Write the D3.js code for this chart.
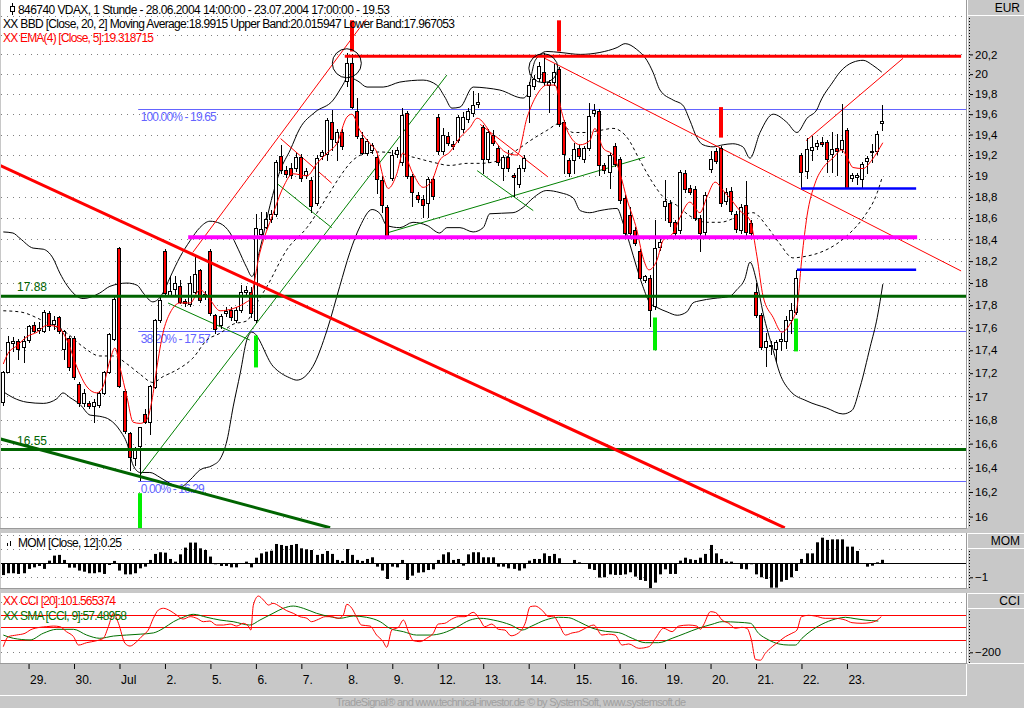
<!DOCTYPE html>
<html>
<head>
<meta charset="utf-8">
<script src="https://cdn.jsdelivr.net/npm/d3@7"></script>
<style>
body { margin: 0; background: #c8c8c8; }
svg text { font-family: "Liberation Sans", Arial, sans-serif; }
</style>
</head>
<body>
<div id="chart"></div>
<script>
// ---- data (hourly bars, 28.06.2004 14:00 - 23.07.2004 17:00) ----
var opens = [16.95,17.21,17.46,17.48,17.43,17.49,17.62,17.58,17.57,17.73,
 17.63,17.69,17.41,17.51,17.51,17.11,16.94,16.94,16.92,16.93,
 17.03,17.21,17.50,18.32,17.05,16.69,16.48,16.58,16.85,16.78,
 17.08,17.67,18.29,17.89,17.95,17.97,17.84,17.81,17.92,18.12,
 17.90,18.29,17.71,17.62,17.73,17.76,17.67,17.76,17.92,17.92,
 17.67,18.45,18.52,18.59,18.64,19.19,19.06,19.08,19.08,19.18,
 19.01,18.96,18.74,19.19,19.21,19.52,19.33,19.42,19.93,20.11,
 19.63,19.37,19.22,19.25,19.18,18.96,18.70,18.98,19.21,19.13,
 19.61,19.00,18.82,18.78,18.74,18.97,19.57,19.24,19.39,19.31,
 19.35,19.45,19.55,19.61,19.70,19.47,19.16,19.40,19.27,19.08,
 19.18,19.01,18.92,19.08,19.78,19.88,19.96,20.02,19.89,19.92,
 20.05,19.52,19.15,19.15,19.27,19.16,19.27,19.61,19.63,19.10,
 19.04,19.29,19.16,18.79,18.63,18.49,18.29,18.03,18.05,17.79,
 18.33,18.71,18.74,18.56,18.49,19.03,18.88,18.87,18.60,18.47,
 19.07,19.24,19.27,18.76,18.86,18.64,18.49,18.72,18.55,17.92,
 17.71,17.43,17.45,17.41,17.48,17.48,17.67,17.74,19.20,19.05,
 19.25,19.29,19.33,19.33,19.21,19.27,19.26,19.44,18.98,18.99,
 18.97,19.14,19.23,19.24,19.51];
var highs = [17.22,17.53,17.52,17.50,17.53,17.62,17.65,17.65,17.76,17.75,
 17.70,17.70,17.58,17.53,17.53,17.12,17.06,16.96,16.98,17.05,
 17.22,17.55,17.87,18.33,17.06,16.70,16.57,16.74,16.89,17.10,
 17.68,17.89,18.31,18.06,18.06,18.03,17.86,18.06,18.26,18.13,
 17.93,18.31,17.72,17.72,17.78,17.78,17.78,17.98,17.97,17.96,
 18.64,18.66,18.66,18.68,19.15,19.30,19.09,19.12,19.22,19.21,
 19.08,18.99,19.20,19.25,19.56,19.64,19.45,19.45,20.21,20.20,
 19.76,19.42,19.36,19.32,19.20,19.00,18.72,19.25,19.28,19.66,
 19.63,19.02,18.85,18.82,18.99,19.00,19.60,19.46,19.42,19.34,
 19.59,19.62,19.66,19.83,19.81,19.49,19.45,19.44,19.30,19.20,
 19.25,19.03,19.10,19.20,19.92,19.99,20.12,20.21,19.94,20.10,
 20.07,19.54,19.17,19.32,19.30,19.29,19.71,19.70,19.65,19.12,
 19.22,19.32,19.18,18.82,18.70,18.52,18.31,18.07,18.07,18.58,
 18.41,18.96,18.77,18.58,19.06,19.06,18.91,18.90,18.63,18.85,
 19.24,19.27,19.29,18.88,18.89,18.67,18.73,18.95,18.58,18.00,
 17.73,17.55,17.48,17.49,17.55,17.70,17.82,18.12,19.22,19.37,
 19.39,19.35,19.38,19.35,19.42,19.41,19.70,19.46,19.03,19.03,
 19.13,19.19,19.31,19.43,19.69];
var lows = [16.93,17.21,17.39,17.32,17.30,17.47,17.56,17.55,17.56,17.58,
 17.59,17.55,17.32,17.23,17.15,16.92,16.92,16.90,16.78,16.91,
 17.02,17.20,17.49,17.08,16.69,16.38,16.42,16.30,16.77,16.68,
 17.07,17.65,17.89,17.88,17.90,17.82,17.79,17.79,17.91,17.83,
 17.86,17.71,17.55,17.60,17.70,17.67,17.65,17.74,17.89,17.69,
 17.65,18.44,18.51,18.56,18.62,19.03,18.99,18.98,19.05,18.95,
 18.98,18.66,18.72,19.16,19.15,19.25,19.15,19.26,19.88,19.66,
 19.37,19.21,19.20,19.22,18.84,18.66,18.43,18.96,19.18,19.10,
 18.98,18.71,18.75,18.61,18.61,18.78,19.21,19.21,19.30,19.26,
 19.33,19.42,19.52,19.58,19.67,19.03,19.13,19.30,19.10,18.96,
 19.05,18.81,18.89,19.05,19.52,19.85,19.93,19.89,19.62,19.89,
 19.48,19.03,19.00,19.03,19.17,19.13,19.25,19.58,19.01,19.03,
 18.88,19.09,18.74,18.43,18.43,18.35,18.04,18.01,17.61,17.77,
 18.30,18.58,18.53,18.44,18.46,18.85,18.83,18.58,18.29,18.44,
 19.04,19.12,18.71,18.73,18.64,18.47,18.46,18.44,18.43,17.69,
 17.41,17.26,17.37,17.30,17.40,17.42,17.55,17.72,18.88,18.98,
 19.15,19.26,19.29,19.04,19.04,19.01,19.23,18.88,18.95,18.92,
 18.89,19.03,19.13,19.21,19.44];
var closes = [17.21,17.47,17.48,17.41,17.48,17.61,17.57,17.60,17.74,17.61,
 17.67,17.57,17.57,17.25,17.17,16.94,17.03,16.92,16.95,17.03,
 17.21,17.54,17.86,17.09,16.71,16.49,16.55,16.74,16.78,17.09,
 17.67,17.85,17.91,17.93,18.00,17.83,17.82,18.00,18.08,17.85,
 17.89,17.73,17.59,17.70,17.75,17.69,17.76,17.92,17.94,17.73,
 18.51,18.50,18.59,18.64,19.13,19.06,19.02,19.01,19.18,18.98,
 19.05,18.71,19.17,19.23,19.54,19.36,19.42,19.29,20.11,19.67,
 19.39,19.22,19.34,19.30,18.97,18.72,18.43,19.20,19.25,19.59,
 19.00,18.85,18.78,18.72,18.97,18.81,19.24,19.40,19.32,19.29,
 19.57,19.57,19.63,19.69,19.72,19.16,19.42,19.32,19.13,19.18,
 19.08,18.99,19.08,19.17,19.89,19.95,20.08,19.92,19.92,20.02,
 19.50,19.21,19.03,19.26,19.19,19.27,19.58,19.64,19.10,19.06,
 19.20,19.11,18.77,18.46,18.46,18.37,18.05,18.06,17.76,18.32,
 18.38,18.76,18.56,18.46,19.04,18.87,18.85,18.60,18.46,18.82,
 19.16,19.14,18.74,18.85,18.67,18.50,18.70,18.47,18.46,17.71,
 17.43,17.48,17.44,17.47,17.50,17.67,17.76,18.05,19.04,19.26,
 19.28,19.32,19.31,19.16,19.26,19.24,19.35,18.88,19.01,19.01,
 19.11,19.17,19.24,19.41,19.53];

// MOM [Close, 12], one value per bar
var momValues = [-0.84,-0.71,-0.71,-0.76,-0.71,-0.40,-0.29,-0.19,-0.40,0.19,
 0.55,0.60,0.24,-0.31,-0.31,-0.52,-0.60,-0.71,-0.71,-0.64,
 -0.76,-0.12,0.17,-0.52,-0.79,-0.79,-0.71,-0.36,-0.24,0.24,
 0.67,0.79,0.76,0.31,0.12,0.64,1.12,1.48,1.48,1.07,
 0.95,0.48,-0.07,-0.19,-0.19,-0.29,-0.29,0.02,0.12,-0.29,
 0.40,0.71,0.83,0.90,1.38,1.31,1.24,1.31,1.38,1.07,
 1.00,0.95,0.60,0.67,0.88,0.67,0.24,0.17,1.02,0.60,
 0.24,0.17,0.31,0.43,-0.24,-0.52,-1.12,-0.24,-0.29,0.24,
 -1.19,-0.88,-0.67,-0.64,-0.48,-0.43,0.24,0.64,0.79,0.24,
 0.31,-0.17,0.64,0.79,0.79,0.43,0.43,0.43,-0.24,-0.24,
 -0.36,-0.40,-0.52,-0.36,0.19,0.31,0.31,0.71,0.52,0.67,
 0.36,0.02,0.02,0.24,0.07,0.02,-0.40,-0.48,-1.02,-1.00,
 -0.79,-0.83,-0.83,-0.79,-0.64,-0.95,-1.19,-1.26,-1.83,-1.38,
 -0.79,-0.43,-0.76,-0.76,0.19,0.40,0.29,0.24,0.40,0.67,
 1.31,0.71,0.31,0.12,0.12,0.02,-0.40,-0.43,-0.07,-0.79,
 -1.00,-1.12,-1.74,-1.74,-1.31,-1.19,-1.00,-0.55,0.31,0.71,
 0.71,1.50,1.83,1.67,1.71,1.71,1.71,1.19,1.19,0.88,
 0.00,-0.24,-0.17,0.07,0.25];

// Bollinger bands [Close, 20, 2] as [bar, price]
var bbUpper = [[0,18.47],[1.9,18.46],[3.3,18.41],[5.9,18.32],[7.9,18.31],[9.8,18.23],[11.2,18.09],[12.6,17.98],
 [15.8,17.86],[19.1,17.91],[21.1,17.97],[24.5,18.00],[26.5,17.98],[27.7,17.91],[29.6,17.83],[31.6,17.91],
 [33,18.05],[35,18.24],[37,18.39],[38.9,18.51],[40.9,18.57],[42.9,18.55],[44.9,18.46],[46.5,18.31],
 [48.2,18.14],[49.2,18.06],[50.8,18.31],[52.8,18.72],[54.8,19.05],[56.8,19.25],[58.7,19.46],[61.7,19.62],
 [65.3,19.74],[67.2,19.89],[68.2,19.97],[70.2,19.93],[72,19.87],[75.2,19.87],[78.5,19.92],[83.1,19.94],
 [85.8,19.89],[87.4,19.77],[88.8,19.66],[90.4,19.67],[93,19.87],[95.7,19.86],[98.3,19.84],[102.9,19.76],
 [103.8,19.80],[104.5,19.98],[105.3,20.14],[107.6,20.23],[110.2,20.22],[114.2,20.20],[118.1,20.22],
 [121.5,20.27],[123.1,20.31],[125.4,20.25],[127.4,20.14],[128.6,20.02],[130,19.84],[132.6,19.74],
 [134.5,19.69],[135.9,19.54],[137.3,19.37],[138.5,19.30],[140.5,19.28],[142.5,19.30],[144.4,19.31],
 [146.4,19.28],[147.8,19.17],[149.8,19.42],[152.4,19.60],[155.1,19.52],[157.1,19.42],[159.1,19.56],
 [161.1,19.65],[161.7,19.72],[164.2,19.92],[165.6,20.02],[168.2,20.12],[170.2,20.14],[172.1,20.09],[173.9,20.02]];
var bbMiddle = [[0,17.75],[3.3,17.74],[7.9,17.66],[12.6,17.55],[15.8,17.43],[19.1,17.35],[21.7,17.35],[24.5,17.28],
 [27.1,17.19],[29.6,17.12],[31.6,17.17],[34.4,17.23],[37.5,17.33],[40.3,17.49],[42.9,17.55],[45.5,17.63],
 [48.2,17.66],[50.2,17.82],[52.2,17.97],[56.2,18.31],[60.1,18.51],[64.1,18.80],[66.6,18.99],[69.2,19.15],
 [72,19.22],[74.6,19.23],[77.1,19.22],[81.1,19.18],[85.1,19.13],[88.4,19.10],[91.8,19.12],[94.4,19.12],
 [98.3,19.15],[101.7,19.25],[104.3,19.34],[107.6,19.44],[110.2,19.51],[112.8,19.42],[115.5,19.42],
 [118.1,19.44],[120.7,19.46],[123.5,19.37],[126,19.15],[128.6,18.93],[130.6,18.80],[133.3,18.72],
 [135.9,18.62],[139.3,18.56],[141.9,18.56],[145.8,18.62],[148.4,18.65],[151.2,18.52],[153.7,18.36],
 [156.3,18.23],[158.3,18.24],[161.7,18.28],[165,18.36],[167.6,18.46],[170.2,18.60],[173,18.84],[174,18.99]];
var bbLower = [[0,17.04],[1.9,16.99],[4.7,16.95],[7.9,16.94],[10.6,16.98],[11.8,17.03],[13.2,16.99],[15.2,16.93],
 [17.2,16.84],[19.1,16.83],[21.1,16.80],[23.1,16.71],[24.5,16.60],[25.7,16.42],[27.1,16.36],[29,16.36],
 [31,16.32],[33,16.27],[35,16.24],[37,16.30],[38.9,16.38],[41.5,16.42],[42.9,16.47],[44.3,16.63],
 [45.5,16.91],[46.9,17.20],[48.2,17.49],[49.2,17.56],[53.4,17.26],[56.7,17.16],[58.1,17.14],[61.3,17.26],
 [64.1,17.58],[66.6,17.97],[68.6,18.28],[70.6,18.52],[73,18.68],[74.6,18.64],[75.9,18.53],[78.5,18.51],
 [81.1,18.56],[83.9,18.53],[86.4,18.46],[87.8,18.51],[90.4,18.51],[93,18.47],[95,18.51],[96.3,18.64],
 [100.9,18.65],[102.9,18.70],[104.9,18.79],[107.6,18.86],[110.2,18.84],[112.8,18.79],[114.2,18.67],
 [116.1,18.65],[118.1,18.67],[121.5,18.69],[122.7,18.55],[124,18.36],[125.4,18.14],[126.6,17.97],
 [128,17.82],[129.4,17.78],[131.4,17.74],[133.4,17.71],[135.3,17.74],[136.5,17.82],[137.9,17.84],
 [140.5,17.86],[143.8,17.88],[145.2,17.94],[146.8,18.04],[147.8,18.19],[149.2,18.00],[150.4,17.73],
 [152.4,17.40],[153.7,17.20],[155.7,17.05],[159.1,16.96],[163,16.90],[166.2,16.85],[168,16.88],
 [169.6,17.08],[171.6,17.43],[173,17.69],[174.1,17.99]];

// EMA(4) [Close, 5] as [bar, price]
var emaLine = [[0,17.28],[0.9,17.37],[2.7,17.44],[4.7,17.52],[6.7,17.56],[8.6,17.62],[10.6,17.61],[12.6,17.49],
 [14.6,17.25],[16.6,17.08],[18.5,17.03],[19.7,17.08],[21.1,17.31],[22.1,17.42],[23.1,17.25],[24.5,16.99],
 [25.7,16.78],[27.1,16.77],[28.4,16.80],[29.4,16.96],[30.4,17.25],[31.6,17.55],[33,17.73],[35,17.82],
 [37,17.82],[38.9,17.94],[40.9,17.85],[42.9,17.75],[45.5,17.77],[48.2,17.83],[48.8,17.85],[50.8,18.28],
 [53.4,18.64],[55.4,18.89],[57.3,19.02],[60.1,19.00],[62.1,19.12],[64.1,19.22],[66.1,19.32],[68,19.57],
 [69,19.60],[70.6,19.44],[72.6,19.31],[74,19.22],[75.2,18.99],[76.2,18.88],[77.9,19.02],[79.1,19.22],
 [81.1,19.02],[83.1,18.89],[84.9,18.96],[86.4,19.15],[88.4,19.23],[90.4,19.37],[92.4,19.47],[93.8,19.56],
 [95.7,19.47],[96.9,19.37],[99.7,19.22],[101.7,19.20],[103.7,19.57],[105.6,19.79],[107.6,19.89],
 [109.2,19.89],[110.6,19.61],[111.8,19.42],[114.2,19.30],[116.1,19.34],[117.1,19.46],[118.7,19.27],
 [120.7,19.20],[122.1,19.02],[123.5,18.77],[125.4,18.49],[126.6,18.24],[127.8,18.12],[129.4,18.21],
 [130.6,18.39],[132.6,18.46],[134,18.61],[135.9,18.75],[137.9,18.65],[139.3,18.80],[140.9,18.94],
 [142.5,18.86],[143.8,18.79],[145.8,18.67],[147.8,18.58],[149.2,18.24],[150.4,17.88],[152.4,17.69],
 [154.1,17.56],[155.7,17.63],[157.1,17.78],[158.1,18.24],[159.1,18.62],[160.7,18.93],[162.3,19.08],
 [164.2,19.17],[166,19.25],[167,19.18],[168.2,19.08],[170.2,19.07],[171.9,19.15],[174.1,19.32]];

// CCI [20] and SMA [CCI, 9] as [bar, value]
var cciLine = [[0,-155],[1,-75],[2.6,-62],[4.3,-48],[5.3,-22],[7.3,0],[8.6,5],[9.9,10],[11.2,5],[12.5,-35],
 [13.9,-75],[14.9,-142],[16.5,-123],[18.5,-107],[19.8,-88],[20.8,5],[21.8,112],[22.8,32],[24.1,-128],
 [25.1,-150],[26.4,-115],[27.7,-62],[28.7,-22],[29.7,72],[30.7,138],[31.7,152],[33,133],[34.3,98],
 [35.6,66],[37,85],[38.3,72],[39.6,45],[40.9,50],[42.2,18],[43.6,18],[44.9,26],[46.2,10],[47.5,32],
 [48.5,10],[49,-22],[49.5,178],[50.5,250],[51.5,218],[52.5,178],[53.4,192],[54.8,165],[56.1,133],
 [57.4,112],[58.7,85],[60.1,72],[61,45],[62.4,64],[63.7,85],[65,85],[66.3,72],[67.3,98],[68,184],
 [69,152],[69.9,85],[70.9,18],[72.6,10],[73.9,-62],[75.2,-115],[75.9,-160],[76.9,-22],[78.2,0],
 [79.2,58],[80.2,-35],[81.2,-107],[82.5,-115],[83.8,-88],[85.1,-48],[86.1,26],[87.4,32],[88.7,64],
 [90.1,85],[91.4,85],[93,120],[94.4,58],[95.3,5],[96.7,26],[98,-16],[99.3,-22],[100.5,-68],[102,-45],
 [103.3,32],[104.3,165],[105.3,170],[106.6,138],[108,85],[108.9,90],[109.9,32],[111.3,-62],[112.6,-45],
 [113.9,-35],[115.2,-8],[116.9,18],[118.5,-62],[119.8,-55],[121.1,-62],[122.5,-142],[123.8,-133],
 [125.8,-168],[127.8,-155],[129.1,-88],[130.7,-8],[132.4,-35],[133.7,10],[135.7,18],[137.3,10],
 [138,-16],[138.6,18],[140,125],[141,118],[142.3,58],[143.6,32],[144.9,-8],[146.2,0],[147.2,-8],
 [148.1,-102],[148.9,-258],[149.9,-263],[150.8,-210],[152.2,-155],[153.5,-115],[154.8,-75],[156.1,-48],
 [157.1,-22],[158,85],[159.4,96],[160.7,90],[162.7,72],[164.7,72],[166.7,58],[168,37],[170,32],
 [171.6,37],[173,58],[173.8,85]];
var cciSma = [[0,-62],[2,-88],[5.3,-101],[7.9,-48],[10.6,-16],[13.9,-16],[16.5,-62],[19.1,-88],[21.8,-70],
 [24.4,-62],[27.1,-55],[29.7,-45],[31.7,-8],[33.7,45],[35.6,80],[37.6,104],[40.3,80],[42.9,58],[45.5,45],
 [48.8,18],[50.8,58],[53.4,112],[55.4,152],[57.4,170],[59.4,152],[62,112],[64.7,85],[66.6,72],[69.3,90],
 [71.9,80],[74.6,45],[76.5,-8],[79.2,-35],[81.8,-62],[84.5,-62],[87.1,-45],[89.7,0],[92.4,58],[94.4,72],
 [97,58],[100.5,18],[102.7,-22],[104.6,10],[107.3,58],[109.9,80],[111.9,77],[113.9,45],[116.5,-5],
 [119.2,-32],[121.8,-42],[124.5,-88],[127.1,-123],[129.7,-123],[132.4,-88],[135,-48],[137.6,-8],
 [140.3,24],[142.3,45],[145.6,40],[147.9,32],[149.5,-48],[151.5,-101],[153.5,-133],[155.5,-142],
 [156.8,-142],[158.1,-88],[160.1,-22],[162.7,37],[165.3,72],[166.7,80],[168.6,69],[170.6,58],[173.2,50]];

// date axis: first bar of each day
var dayStarts = [5,14,23,32,41,50,59,68,77,86,95,104,113,122,131,140,149,158,167];
var dayLabels = ["29.","30.","Jul","2.","5.","6.","7.","8.","9.","12.","13.","14.","15.","16.","19.","20.","21.","22.","23."];

var priceTicks = [16,16.2,16.4,16.6,16.8,17,17.2,17.4,17.6,17.8,18,18.2,18.4,18.6,18.8,19,19.2,19.4,19.6,19.8,20,20.2];
var gridPrices = priceTicks.concat([20.4, 20.6]);
var momTicks = [-1], momGrid = [2, 1, -1];
var cciTicks = [-200], cciGrid = [200, -200], cciLevels = [100, 0, -100];

// drawing tools
var fibLevels = [19.65, 17.57, 16.29];
var fibLabels = ["100.00% - 19.65", "38.20% - 17.57", "0.00% - 16.29"];
var fibStart = 27;
var supportLevels = [17.88, 16.55];
var supportLabels = ["17.88", "16.55"];
var thickRedLines = [[-0.65, 19.10, 154.7, 15.91]];
var thickGreenLines = [[-0.65, 16.64, 64.7, 15.91]];
var thinRedLines = [[37.5,18.28,71.8,20.56],[54.9,19.36,65,18.93],[94.4,19.50,107.8,18.99],
 [107.2,20.16,189.6,18.11],[158.9,19.34,178.1,20.16]];
var thinGreenLines = [[27.1,16.34,87.8,19.99],[32.6,17.82,48.8,17.49],[54.1,18.93,65,18.51],
 [75.9,18.46,127,19.18],[93.8,19.05,104.9,18.67]];
var redLevels = [[67.6, 189.6, 20.18]];
var magentaLevels = [[36.6, 180.9, 18.42]];
var blueLevels = [[157.9, 180.7, 18.88], [157.1, 180.7, 18.12]];
var redMarks = [[69, 20.55, 20.23], [110, 20.55, 20.23], [142, 19.67, 19.37]];
var greenMarks = [[27, 16.19, 15.89], [50, 17.53, 17.25], [129, 17.69, 17.40], [157, 17.68, 17.39]];
var circles = [[68, 20.11], [106.9, 20.06]];

// ---- layout ----
var W = 1024, H = 708;
var plotRight = 966;
var mainTop = 0, mainBottom = 528;
var momTop = 533, momBottom = 588;
var cciTop = 593, cciBottom = 663;

var svg = d3.select("#chart").append("svg")
    .attr("width", W).attr("height", H).style("display", "block");
svg.append("rect").attr("width", W).attr("height", H).attr("fill", "#c8c8c8");

var x = d3.scaleLinear().domain([0, 174]).range([3.3, 882.3]);
var y = d3.scaleLog().domain([16, 20.2]).range([516.6, 54.4]);
var yMom = d3.scaleLinear().domain([-1, 1]).range([577.3, 549.3]);
var yCci = d3.scaleLinear().domain([-200, 200]).range([652.3, 602.3]);
var px = function(v) { return Math.round(v) + 0.5; };

function panel(top, bottom, id) {
    svg.append("rect").attr("x", 1).attr("y", top)
        .attr("width", plotRight - 1).attr("height", bottom - top).attr("fill", "#fff");
    svg.append("clipPath").attr("id", id).append("rect").attr("x", 1).attr("y", top)
        .attr("width", plotRight - 1).attr("height", bottom - top);
    svg.append("line").attr("x1", 0).attr("x2", plotRight + 1)
        .attr("y1", bottom + 0.5).attr("y2", bottom + 0.5).attr("stroke", "#9a9a9a");
    svg.append("line").attr("x1", plotRight + 0.5).attr("x2", plotRight + 0.5)
        .attr("y1", top).attr("y2", bottom + 1).attr("stroke", "#9a9a9a");
    return svg.append("g").attr("clip-path", "url(#" + id + ")");
}
var gMain = panel(mainTop, mainBottom, "clipMain");
var gMom = panel(momTop, momBottom, "clipMom");
var gCci = panel(cciTop, cciBottom, "clipCci");

function hGrid(g, values, scale) {
    g.selectAll(null).data(values).enter().append("line")
        .attr("x1", 1).attr("x2", plotRight)
        .attr("y1", function(d) { return px(scale(d)); })
        .attr("y2", function(d) { return px(scale(d)); })
        .attr("stroke", "#808080").attr("stroke-dasharray", "1,5");
}
hGrid(gMain, gridPrices, y);
hGrid(gMom, momGrid, yMom);
hGrid(gCci, cciGrid, yCci);

// ---- main panel ----
// fibonacci lines
gMain.selectAll(".fib").data(fibLevels).enter().append("line")
    .attr("x1", x(fibStart) - 1.5).attr("x2", plotRight)
    .attr("y1", function(d) { return px(y(d)); }).attr("y2", function(d) { return px(y(d)); })
    .attr("stroke", "#6464ff");
gMain.selectAll(".fibLabel").data(fibLevels).enter().append("text")
    .attr("x", x(fibStart) + 1).attr("y", function(d) { return y(d) + 12; })
    .attr("font-size", 12).attr("fill", "#6464ff")
    .attr("textLength", function(d, i) { return [76, 70, 64][i]; })
    .text(function(d, i) { return fibLabels[i]; });

var bandLine = d3.line()
    .x(function(d) { return x(d[0]); })
    .y(function(d) { return y(d[1]); })
    .curve(d3.curveMonotoneX);

gMain.append("path").datum(bbUpper).attr("d", bandLine).attr("fill", "none").attr("stroke", "#000");
gMain.append("path").datum(bbLower).attr("d", bandLine).attr("fill", "none").attr("stroke", "#000");
gMain.append("path").datum(bbMiddle).attr("d", bandLine).attr("fill", "none")
    .attr("stroke", "#000").attr("stroke-dasharray", "3,3");

function segments(data, color, width) {
    gMain.selectAll(null).data(data).enter().append("line")
        .attr("x1", function(d) { return x(d[0]); }).attr("y1", function(d) { return y(d[1]); })
        .attr("x2", function(d) { return x(d[2]); }).attr("y2", function(d) { return y(d[3]); })
        .attr("stroke", color).attr("stroke-width", width);
}
segments(thinGreenLines, "#008000", 1);
segments(thinRedLines, "#ff0000", 1);

// candles
var bars = d3.range(opens.length);
var candle = gMain.selectAll(".candle").data(bars).enter().append("g").attr("class", "candle");
candle.append("line")
    .attr("x1", function(i) { return px(x(i)); }).attr("x2", function(i) { return px(x(i)); })
    .attr("y1", function(i) { return Math.round(y(highs[i])); })
    .attr("y2", function(i) { return Math.round(y(lows[i])) + 1; })
    .attr("stroke", "#000");
candle.append("rect")
    .attr("x", function(i) { return Math.round(x(i)) - 1.5; })
    .attr("width", 3)
    .attr("y", function(i) { return Math.round(y(Math.max(opens[i], closes[i]))) + 0.5; })
    .attr("height", function(i) {
        return Math.max(1, Math.round(y(Math.min(opens[i], closes[i]))) - Math.round(y(Math.max(opens[i], closes[i]))));
    })
    .attr("fill", function(i) { return closes[i] >= opens[i] ? "#fff" : "#ff0000"; })
    .attr("stroke", "#000");

gMain.append("path").datum(emaLine).attr("d", bandLine).attr("fill", "none").attr("stroke", "#ff0000");

// horizontal levels
function levels(data, color, width) {
    gMain.selectAll(null).data(data).enter().append("line")
        .attr("x1", function(d) { return x(d[0]); }).attr("x2", function(d) { return x(d[1]); })
        .attr("y1", function(d) { return y(d[2]); }).attr("y2", function(d) { return y(d[2]); })
        .attr("stroke", color).attr("stroke-width", width);
}
gMain.selectAll(".support").data(supportLevels).enter().append("line")
    .attr("x1", 1).attr("x2", plotRight)
    .attr("y1", function(d) { return y(d); }).attr("y2", function(d) { return y(d); })
    .attr("stroke", "#006400").attr("stroke-width", 3);
gMain.selectAll(".supportLabel").data(supportLevels).enter().append("text")
    .attr("x", 17).attr("y", function(d) { return y(d) - 5; })
    .attr("font-size", 12).attr("fill", "#006400")
    .text(function(d, i) { return supportLabels[i]; });
levels(magentaLevels, "#ff00ff", 4);
levels(blueLevels, "#0000ff", 2.5);
levels(redLevels, "#ff0000", 3);
segments(thickRedLines, "#ff0000", 3);
segments(thickGreenLines, "#006400", 3);

// markers and circles
function marks(data, color) {
    gMain.selectAll(null).data(data).enter().append("rect")
        .attr("x", function(d) { return Math.round(x(d[0])) - 2; }).attr("width", 4)
        .attr("y", function(d) { return y(d[1]); })
        .attr("height", function(d) { return y(d[2]) - y(d[1]); })
        .attr("fill", color);
}
marks(redMarks, "#ff0000");
marks(greenMarks, "#00ee00");
gMain.selectAll(".circle").data(circles).enter().append("circle")
    .attr("cx", function(d) { return x(d[0]); }).attr("cy", function(d) { return y(d[1]); })
    .attr("r", 14.5).attr("fill", "none").attr("stroke", "#000");

// legend texts
gMain.append("rect").attr("x", 10.5).attr("y", 6.5).attr("width", 4).attr("height", 5)
    .attr("fill", "#fff").attr("stroke", "#000");
gMain.append("line").attr("x1", 12.5).attr("x2", 12.5).attr("y1", 3).attr("y2", 6.5).attr("stroke", "#000");
gMain.append("line").attr("x1", 12.5).attr("x2", 12.5).attr("y1", 11.5).attr("y2", 15).attr("stroke", "#000");
gMain.append("text").attr("x", 18).attr("y", 14).attr("font-size", 12).attr("textLength", 372)
    .text("846740  VDAX, 1 Stunde - 28.06.2004 14:00:00 - 23.07.2004 17:00:00 - 19.53");
gMain.append("text").attr("x", 3).attr("y", 28).attr("font-size", 12).attr("textLength", 452)
    .text("XX BBD [Close, 20, 2] Moving Average:18.9915 Upper Band:20.015947 Lower Band:17.967053");
gMain.append("text").attr("x", 3).attr("y", 42).attr("font-size", 12).attr("textLength", 151)
    .attr("fill", "#ff0000").text("XX EMA(4) [Close, 5]:19.318715");

// ---- MOM panel ----
gMom.selectAll(".mom").data(bars).enter().append("rect")
    .attr("x", function(i) { return Math.round(x(i)) - 1; }).attr("width", 3)
    .attr("y", function(i) { return Math.min(yMom(0), yMom(momValues[i])); })
    .attr("height", function(i) { return Math.abs(yMom(momValues[i]) - yMom(0)); })
    .attr("fill", "#000");
gMom.append("line").attr("x1", 1).attr("x2", plotRight)
    .attr("y1", px(yMom(0))).attr("y2", px(yMom(0))).attr("stroke", "#000");
gMom.append("rect").attr("x", 7).attr("y", 543).attr("width", 1).attr("height", 3).attr("fill", "#000");
gMom.append("rect").attr("x", 10).attr("y", 541).attr("width", 1).attr("height", 5).attr("fill", "#000");
gMom.append("text").attr("x", 18).attr("y", 547).attr("font-size", 12).attr("textLength", 104)
    .text("MOM [Close, 12]:0.25");

// ---- CCI panel ----
gCci.selectAll(".level").data(cciLevels).enter().append("line")
    .attr("x1", 1).attr("x2", plotRight)
    .attr("y1", function(d) { return px(yCci(d)); }).attr("y2", function(d) { return px(yCci(d)); })
    .attr("stroke", "#ff0000");
var cciPath = d3.line()
    .x(function(d) { return x(d[0]); })
    .y(function(d) { return yCci(d[1]); })
    .curve(d3.curveMonotoneX);
gCci.append("path").datum(cciSma).attr("d", cciPath).attr("fill", "none").attr("stroke", "#007000");
gCci.append("path").datum(cciLine).attr("d", cciPath).attr("fill", "none").attr("stroke", "#ff0000");
gCci.append("text").attr("x", 3).attr("y", 605).attr("font-size", 12).attr("textLength", 113)
    .attr("fill", "#ff0000").text("XX CCI [20]:101.565374");
gCci.append("text").attr("x", 3).attr("y", 620).attr("font-size", 12).attr("textLength", 124)
    .attr("fill", "#007000").text("XX SMA [CCI, 9]:57.48958");

// ---- right axes ----
var deFormat = d3.formatLocale({decimal: ",", thousands: ".", grouping: [3], currency: ["", "EUR"]}).format("~g");

function rightAxis(scale, ticks, top, bottom, title) {
    var g = svg.append("g");
    g.append("line").attr("x1", 967.5).attr("x2", 967.5).attr("y1", top).attr("y2", bottom)
        .attr("stroke", "#fff");
    if (top > 0) {
        g.append("line").attr("x1", 968).attr("x2", W).attr("y1", top + 0.5).attr("y2", top + 0.5)
            .attr("stroke", "#fff");
    }
    g.append("line").attr("x1", 968).attr("x2", W).attr("y1", top + 15.5).attr("y2", top + 15.5)
        .attr("stroke", "#fff");
    g.append("text").attr("x", 1020).attr("y", top + 12).attr("text-anchor", "end")
        .attr("font-size", 12).text(title);
    g.append("line").attr("x1", 969.5).attr("x2", 969.5).attr("y1", top + 18).attr("y2", bottom)
        .attr("stroke", "#000").attr("stroke-dasharray", "1,2");
    var ax = g.append("g").attr("transform", "translate(970,0)")
        .call(d3.axisRight(scale).tickValues(ticks).tickSize(3).tickPadding(2).tickFormat(deFormat));
    ax.select(".domain").remove();
    ax.selectAll("text").attr("font-size", 11.5).attr("fill", "#000");
    ax.selectAll("line").attr("stroke", "#000");
}
rightAxis(y, priceTicks, mainTop, mainBottom, "EUR");
rightAxis(yMom, momTicks, momTop, momBottom, "MOM");
rightAxis(yCci, cciTicks, cciTop, cciBottom, "CCI");
svg.append("line").attr("x1", 968).attr("x2", W).attr("y1", cciBottom + 0.5).attr("y2", cciBottom + 0.5)
    .attr("stroke", "#fff");

// ---- date axis ----
var dateAxis = svg.append("g").attr("transform", "translate(0," + (cciBottom + 1) + ")")
    .call(d3.axisBottom(x).tickValues(dayStarts).tickSize(5).tickPadding(6)
        .tickFormat(function(d, i) { return dayLabels[i]; }));
dateAxis.select(".domain").remove();
dateAxis.selectAll("line").attr("stroke", "#000");
dateAxis.selectAll("text").attr("font-size", 12).attr("fill", "#000")
    .attr("text-anchor", "start").attr("dx", 1);
svg.append("line").attr("x1", 0).attr("x2", plotRight + 1).attr("y1", 695.5).attr("y2", 695.5).attr("stroke", "#fff");
svg.append("line").attr("x1", plotRight + 0.5).attr("x2", plotRight + 0.5).attr("y1", cciBottom + 1).attr("y2", 696)
    .attr("stroke", "#fff");

svg.append("text").attr("x", 336).attr("y", 706).attr("font-size", 11).attr("fill", "#a0a0a0")
    .attr("textLength", 350)
    .text("TradeSignal\u00ae and www.technical-investor.de \u00a9 by SystemSoft, www.systemsoft.de");
</script>
</body>
</html>
